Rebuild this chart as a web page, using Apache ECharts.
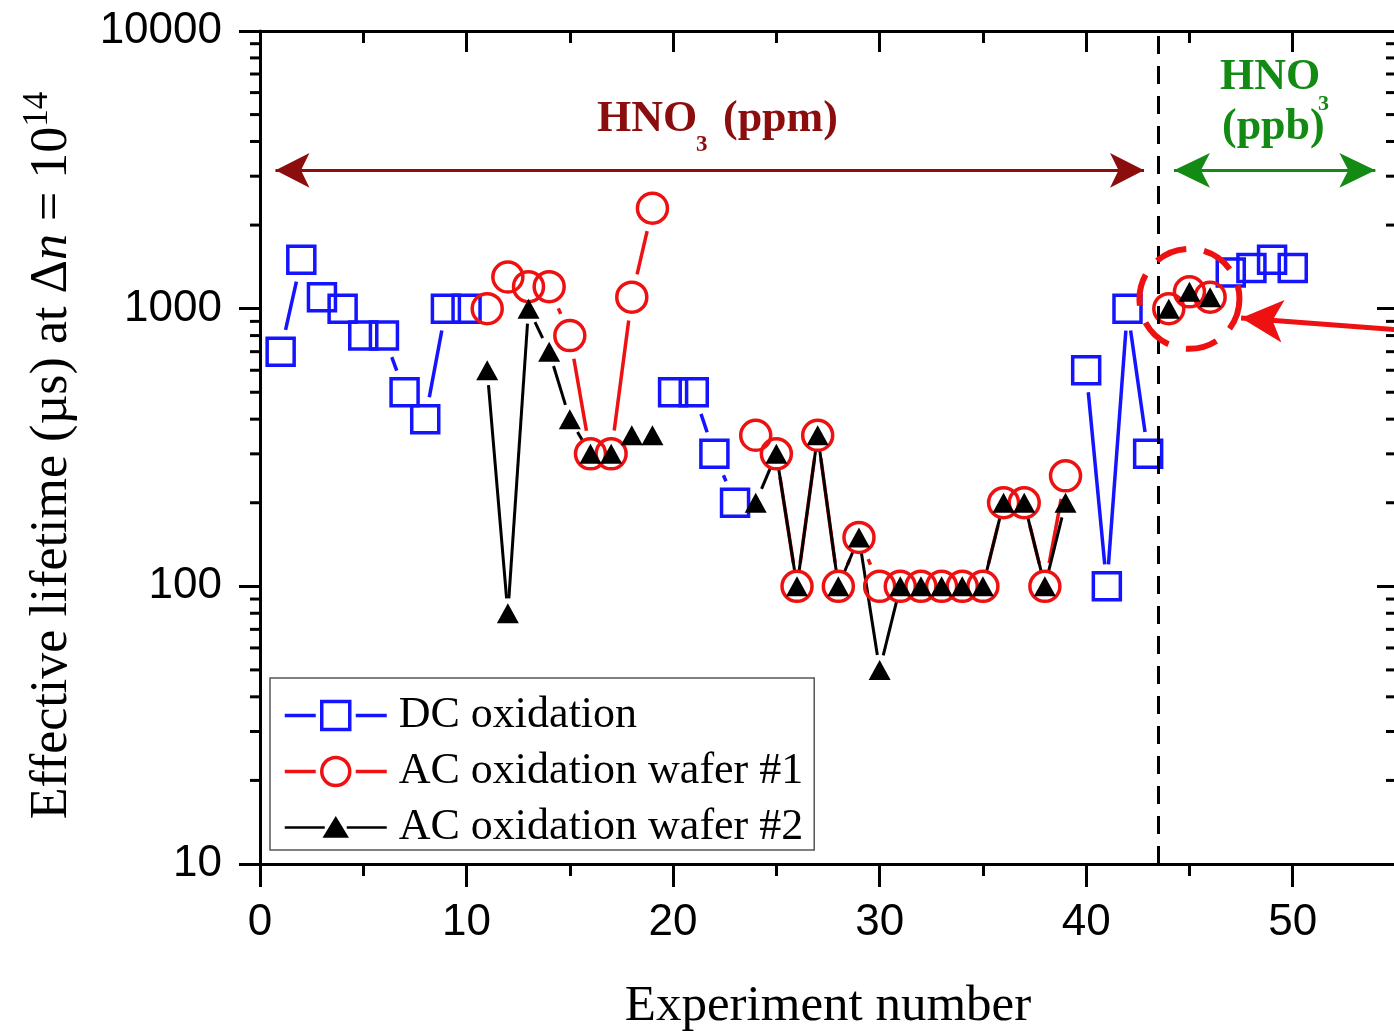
<!DOCTYPE html>
<html>
<head>
<meta charset="utf-8">
<script src="https://cdn.jsdelivr.net/npm/echarts@6/dist/echarts.min.js"></script>
<style>
  html, body { margin: 0; padding: 0; background: #fff; }
  #chart { width: 1394px; height: 1031px; }
</style>
</head>
<body>
<div id="chart"></div>
<script>
// Experiment index (x) and effective lifetime in µs (y, log scale)
const experiment = [1, 2, 3, 4, 5, 6, 7, 8, 9, 10,
  11, 12, 13, 14, 15, 16, 17, 18, 19, 20,
  21, 22, 23, 24, 25, 26, 27, 28, 29, 30,
  31, 32, 33, 34, 35, 36, 37, 38, 39, 40,
  41, 42, 43, 44, 45, 46, 47, 48, 49, 50];

const dcOxidation = [700, 1500, 1100, 1000, 800, 800, 500, 400, 1000, 1000,
  null, null, null, null, null, null, null, null, null, 500,
  500, 300, 200, null, null, null, null, null, null, null,
  null, null, null, null, null, null, null, null, null, 600,
  100, 1000, 300, null, null, null, 1350, 1400, 1500, 1400];

const acWafer1 = [null, null, null, null, null, null, null, null, null, null,
  1000, 1300, 1200, 1200, 800, 300, 300, 1100, 2300, null,
  null, null, null, 350, 300, 100, 350, 100, 150, 100,
  100, 100, 100, 100, 100, 200, 200, 100, 250, null,
  null, null, null, 1000, 1150, 1100, null, null, null, null];

const acWafer2 = [null, null, null, null, null, null, null, null, null, null,
  600, 80, 1000, 700, 400, 300, 300, 350, 350, null,
  null, null, null, 200, 300, 100, 350, 100, 150, 50,
  100, 100, 100, 100, 100, 200, 200, 100, 200, null,
  null, null, null, 1000, 1150, 1100, null, null, null, null];

// log-axis minor tick values (2..9 of each decade)
const minorLogTicks = [20, 30, 40, 50, 60, 70, 80, 90,
  200, 300, 400, 500, 600, 700, 800, 900,
  2000, 3000, 4000, 5000, 6000, 7000, 8000, 9000];

// Annotations (data coordinates)
const ppmRange = [0.75, 42.8];
const ppbRange = [44.25, 54.0];
const rangeArrowLevel = 3150;
const boundaryX = 43.5;
const highlightCenter = [45, 1085];
const pointerFrom = [55, 840];
const pointerTo = [47.5, 925];

const BLUE = '#1414ff';
const RED = '#ee1111';
const BLACK = '#000000';
const MAROON = '#8b0d0d';
const GREEN = '#138a13';
const SERIF = '"Liberation Serif", "Times New Roman", serif';
const SANS = '"Liberation Sans", Arial, sans-serif';

function pointsOf(ys) {
  const out = [];
  ys.forEach((y, i) => { if (y != null) out.push([experiment[i], y]); });
  return out;
}

function segmentsOf(ys) {
  const out = [];
  for (let i = 0; i < ys.length - 1; i++) {
    if (ys[i] != null && ys[i + 1] != null) {
      out.push([experiment[i], ys[i], experiment[i + 1], ys[i + 1]]);
    }
  }
  return out;
}

// connecting lines stop short of each marker, leaving a small gap
const clipSquare = (ux, uy) => 15 / Math.max(Math.abs(ux), Math.abs(uy)) + 7;
const clipCircle = () => 23.5;
const clipTriangle = () => 15;

function gappedLine(ys, color, width, clipFn) {
  return {
    type: 'custom',
    silent: true,
    data: segmentsOf(ys),
    encode: { x: [0, 2], y: [1, 3] },
    renderItem(params, api) {
      const a = api.coord([api.value(0), api.value(1)]);
      const b = api.coord([api.value(2), api.value(3)]);
      const dx = b[0] - a[0], dy = b[1] - a[1];
      const len = Math.hypot(dx, dy);
      const ux = dx / len, uy = dy / len;
      const d = clipFn(ux, uy);
      if (len <= 2 * d + 1) return null;
      return {
        type: 'line',
        shape: { x1: a[0] + ux * d, y1: a[1] + uy * d, x2: b[0] - ux * d, y2: b[1] - uy * d },
        style: { stroke: color, lineWidth: width }
      };
    }
  };
}

// legend icons: line - marker - line
const ICON_SQUARE = 'path://M0,0 M0,15 L31,15 M71,15 L102,15 M37,1 L65,1 L65,29 L37,29 Z M102,30';
const ICON_CIRCLE = 'path://M0,0 M0,15 L31,15 M71,15 L102,15 M37,15 A14,14 0 1,1 65,15 A14,14 0 1,1 37,15 Z M102,30';
const ICON_TRIANGLE = 'path://M0,0 M0,15 L40,15 M62,15 L102,15 M51,6 L62,24 L40,24 Z M102,30';

const chart = echarts.init(document.getElementById('chart'), null, { renderer: 'canvas' });

const axisCommon = {
  type: 'value', min: 0, max: 55, splitLine: { show: false }
};

const option = {
  animation: false,
  backgroundColor: '#ffffff',
  grid: { left: 260, right: -2, top: 31, bottom: 167, containLabel: false, outerBoundsMode: 'none' },
  xAxis: [
    Object.assign({}, axisCommon, {
      position: 'bottom', interval: 10, offset: 0,
      name: 'Experiment number', nameLocation: 'middle', nameGap: 117,
      nameTextStyle: { fontFamily: SERIF, fontSize: 51, color: BLACK },
      axisLine: { show: true, onZero: false, lineStyle: { color: BLACK, width: 3 } },
      axisTick: { show: true, inside: false, length: 23, lineStyle: { color: BLACK, width: 3 } },
      axisLabel: { show: true, margin: 37, showMaxLabel: false, fontFamily: SANS, fontSize: 44, color: BLACK }
    }),
    Object.assign({}, axisCommon, {
      position: 'bottom', interval: 5, offset: 0,
      axisLine: { show: false, onZero: false },
      axisTick: { show: true, inside: false, length: 12, lineStyle: { color: BLACK, width: 3 } },
      axisLabel: { show: false }
    }),
    Object.assign({}, axisCommon, {
      position: 'top', interval: 10, offset: 0,
      axisLine: { show: true, onZero: false, lineStyle: { color: BLACK, width: 3 } },
      axisTick: { show: true, inside: true, length: 21, lineStyle: { color: BLACK, width: 3 } },
      axisLabel: { show: false }
    }),
    Object.assign({}, axisCommon, {
      position: 'top', interval: 5, offset: 0,
      axisLine: { show: false, onZero: false },
      axisTick: { show: true, inside: true, length: 12, lineStyle: { color: BLACK, width: 3 } },
      axisLabel: { show: false }
    })
  ],
  yAxis: [
    {
      type: 'log', logBase: 10, min: 10, max: 10000, position: 'left',
      splitLine: { show: false },
      name: '{t|Effective lifetime (µs) at Δ}{i|n}{t| = 10}{s|14}',
      nameLocation: 'middle', nameRotate: 90, nameGap: 176,
      nameTextStyle: {
        padding: [0, 16, 0, 0],
        rich: {
          t: { fontFamily: SERIF, fontSize: 52, color: BLACK, lineHeight: 64 },
          i: { fontFamily: SERIF, fontSize: 52, fontStyle: 'italic', color: BLACK, lineHeight: 64 },
          s: { fontFamily: SERIF, fontSize: 35, color: BLACK, lineHeight: 34, verticalAlign: 'top' }
        }
      },
      axisLine: { show: true, onZero: false, lineStyle: { color: BLACK, width: 3 } },
      axisTick: { show: true, inside: false, length: 21, lineStyle: { color: BLACK, width: 3 } },
      axisLabel: {
        show: true, margin: 38, fontFamily: SANS, fontSize: 44, color: BLACK,
        formatter: v => String(Math.round(v))
      }
    },
    {
      type: 'log', logBase: 10, min: 10, max: 10000, position: 'right',
      splitLine: { show: false },
      axisLine: { show: true, onZero: false, lineStyle: { color: BLACK, width: 3 } },
      axisTick: { show: true, inside: true, length: 19, lineStyle: { color: BLACK, width: 3 } },
      axisLabel: { show: false }
    }
  ],
  legend: {
    orient: 'vertical', left: 270, top: 678,
    padding: [15, 11, 0, 13], itemGap: 11, itemWidth: 102, itemHeight: 30,
    borderColor: '#555555', borderWidth: 1.5, backgroundColor: '#ffffff',
    selectedMode: false,
    textStyle: { fontFamily: SERIF, fontSize: 44, lineHeight: 45, color: BLACK, padding: [0, 0, 0, 7] },
    data: [
      { name: 'DC oxidation', icon: ICON_SQUARE,
        itemStyle: { color: 'rgba(0,0,0,0)', borderColor: BLUE, borderWidth: 3.5, opacity: 1 } },
      { name: 'AC oxidation wafer #1', icon: ICON_CIRCLE,
        itemStyle: { color: 'rgba(0,0,0,0)', borderColor: RED, borderWidth: 3.5, opacity: 1 } },
      { name: 'AC oxidation wafer #2', icon: ICON_TRIANGLE,
        itemStyle: { color: BLACK, borderColor: BLACK, borderWidth: 2.5, opacity: 1 } }
    ]
  },
  graphic: [
    { type: 'text', x: 597, y: 120, style: { text: 'HNO', fontFamily: SERIF, fontWeight: 'bold', fontSize: 44, fill: MAROON, align: 'left', verticalAlign: 'middle' } },
    { type: 'text', x: 696, y: 145, style: { text: '3', fontFamily: SERIF, fontWeight: 'bold', fontSize: 23, fill: MAROON, align: 'left', verticalAlign: 'middle' } },
    { type: 'text', x: 723, y: 120, style: { text: '(ppm)', fontFamily: SERIF, fontWeight: 'bold', fontSize: 44, fill: MAROON, align: 'left', verticalAlign: 'middle' } },
    { type: 'text', x: 1220, y: 78, style: { text: 'HNO', fontFamily: SERIF, fontWeight: 'bold', fontSize: 44, fill: GREEN, align: 'left', verticalAlign: 'middle' } },
    { type: 'text', x: 1318, y: 104, style: { text: '3', fontFamily: SERIF, fontWeight: 'bold', fontSize: 22, fill: GREEN, align: 'left', verticalAlign: 'middle' } },
    { type: 'text', x: 1222, y: 128, style: { text: '(ppb)', fontFamily: SERIF, fontWeight: 'bold', fontSize: 44, fill: GREEN, align: 'left', verticalAlign: 'middle' } }
  ],
  series: [
    gappedLine(dcOxidation, BLUE, 3.5, clipSquare),
    {
      name: 'DC oxidation', type: 'scatter', data: pointsOf(dcOxidation),
      symbol: 'rect', symbolSize: 27,
      itemStyle: { color: 'rgba(0,0,0,0)', borderColor: BLUE, borderWidth: 3.5, opacity: 1 },
      emphasis: { disabled: true }
    },
    gappedLine(acWafer1, RED, 3.5, clipCircle),
    {
      name: 'AC oxidation wafer #1', type: 'scatter', data: pointsOf(acWafer1),
      symbol: 'circle', symbolSize: 30,
      itemStyle: { color: 'rgba(0,0,0,0)', borderColor: RED, borderWidth: 3.5, opacity: 1 },
      emphasis: { disabled: true }
    },
    gappedLine(acWafer2, BLACK, 3, clipTriangle),
    {
      name: 'AC oxidation wafer #2', type: 'scatter', data: pointsOf(acWafer2),
      symbol: 'triangle', symbolSize: [22, 20],
      itemStyle: { color: BLACK, opacity: 1 },
      emphasis: { disabled: true }
    },
    {
      // minor log ticks on left (outside) and right (inside) axes
      type: 'custom', silent: true,
      data: minorLogTicks.map(v => [0, v]),
      encode: { x: 0, y: 1 },
      renderItem(params, api) {
        const cs = params.coordSys;
        const y = api.coord([0, api.value(1)])[1];
        return {
          type: 'group',
          children: [
            { type: 'line', shape: { x1: cs.x - 10, y1: y, x2: cs.x, y2: y }, style: { stroke: BLACK, lineWidth: 3 } },
            { type: 'line', shape: { x1: cs.x + cs.width - 10, y1: y, x2: cs.x + cs.width, y2: y }, style: { stroke: BLACK, lineWidth: 3 } }
          ]
        };
      }
    },
    {
      // highlighted ppb group, region boundary and range arrows
      type: 'scatter', silent: true,
      data: [highlightCenter],
      symbol: 'circle', symbolSize: 100,
      itemStyle: { color: 'rgba(0,0,0,0)', borderColor: RED, borderWidth: 6, borderType: [32, 18], opacity: 1 },
      z: 5,
      markLine: {
        silent: true, animation: false,
        label: { show: false },
        symbol: ['none', 'none'],
        data: [
          { xAxis: boundaryX, lineStyle: { color: BLACK, width: 3, type: [18, 12] } },
          [
            { coord: [ppmRange[0], rangeArrowLevel], symbol: 'arrow', symbolSize: [26, 34], lineStyle: { color: MAROON, width: 3, type: 'solid' } },
            { coord: [ppmRange[1], rangeArrowLevel], symbol: 'arrow', symbolSize: [26, 34], lineStyle: { color: MAROON, width: 3, type: 'solid' } }
          ],
          [
            { coord: [ppbRange[0], rangeArrowLevel], symbol: 'arrow', symbolSize: [26, 36], lineStyle: { color: GREEN, width: 3, type: 'solid' } },
            { coord: [ppbRange[1], rangeArrowLevel], symbol: 'arrow', symbolSize: [26, 36], lineStyle: { color: GREEN, width: 3, type: 'solid' } }
          ],
          [
            { coord: pointerFrom, symbol: 'none', lineStyle: { color: RED, width: 5, type: 'solid' } },
            { coord: pointerTo, symbol: 'arrow', symbolSize: [32, 42], lineStyle: { color: RED, width: 5, type: 'solid' } }
          ]
        ]
      }
    }
  ]
};

chart.setOption(option);
</script>
</body>
</html>
